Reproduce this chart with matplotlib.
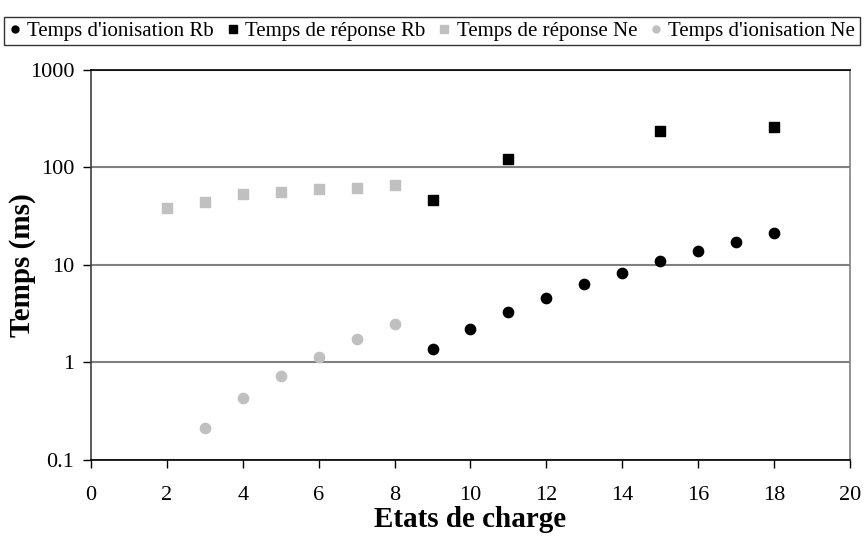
import matplotlib.pyplot as plt
from matplotlib.lines import Line2D

plt.rcParams['font.family'] = ['Liberation Serif', 'DejaVu Serif']

# charge states and times (ms)
q_ion_rb = [9, 10, 11, 12, 13, 14, 15, 16, 17, 18]
t_ion_rb = [1.39, 2.19, 3.28, 4.64, 6.32, 8.33, 10.9, 13.9, 17.4, 21.4]

q_rep_rb = [9, 11, 15, 18]
t_rep_rb = [46, 122, 235, 258]

q_rep_ne = [2, 3, 4, 5, 6, 7, 8]
t_rep_ne = [38.7, 44.6, 53, 56.6, 60.8, 62.2, 65.7]

q_ion_ne = [3, 4, 5, 6, 7, 8]
t_ion_ne = [0.214, 0.43, 0.72, 1.13, 1.73, 2.48]

labels = ["Temps d'ionisation Rb", "Temps de réponse Rb",
          "Temps de réponse Ne", "Temps d'ionisation Ne"]

gray = '#c0c0c0'

fig = plt.figure(figsize=(8.64, 5.36), dpi=100)
ax = fig.add_axes([0.1053, 0.1418, 0.8785, 0.7276])

ax.scatter(q_ion_rb, t_ion_rb, marker='o', s=55, color='black', zorder=3)
ax.scatter(q_rep_rb, t_rep_rb, marker='s', s=55, color='black', zorder=3)
ax.scatter(q_rep_ne, t_rep_ne, marker='s', s=55, color=gray, zorder=3)
ax.scatter(q_ion_ne, t_ion_ne, marker='o', s=55, color=gray, zorder=3)

ax.set_yscale('log')
ax.set_ylim(0.1, 1000)
ax.set_xlim(0, 20)
ax.set_xticks(range(0, 21, 2))
ax.set_yticks([0.1, 1, 10, 100, 1000])
ax.set_yticklabels(['0.1', '1', '10', '100', '1000'])
ax.minorticks_off()
ax.grid(axis='y', color='#808080', linewidth=1.5)
ax.set_axisbelow(True)

ax.tick_params(axis='both', labelsize=16, length=6, width=1, direction='out')
ax.tick_params(axis='x', pad=13)
ax.tick_params(axis='y', pad=6)
ax.spines['left'].set_color('#404040')
ax.spines['bottom'].set_color('black')
ax.spines['top'].set_color('black')
ax.spines['right'].set_color('#808080')
for s in ax.spines.values():
    s.set_linewidth(1.2)

ax.set_xlabel('Etats de charge', fontsize=21, fontweight='bold')
ax.set_ylabel('Temps (ms)', fontsize=21, fontweight='bold')
ax.xaxis.set_label_coords(0.5, -0.118)
ax.yaxis.set_label_coords(-0.072, 0.5)

handles = [
    Line2D([], [], marker='o', linestyle='none', color='black', markersize=5),
    Line2D([], [], marker='s', linestyle='none', color='black', markersize=6),
    Line2D([], [], marker='s', linestyle='none', color=gray, markersize=6),
    Line2D([], [], marker='o', linestyle='none', color=gray, markersize=5),
]
leg = fig.legend(handles, labels, loc='upper center', bbox_to_anchor=(0.5, 0.968),
                 ncol=4, fontsize=15, frameon=True, fancybox=False,
                 edgecolor='black', handlelength=0.6, handletextpad=0.3,
                 columnspacing=0.6, borderpad=0.2, borderaxespad=0)
leg.get_frame().set_linewidth(1)

fig.savefig('out.png', dpi=100)
